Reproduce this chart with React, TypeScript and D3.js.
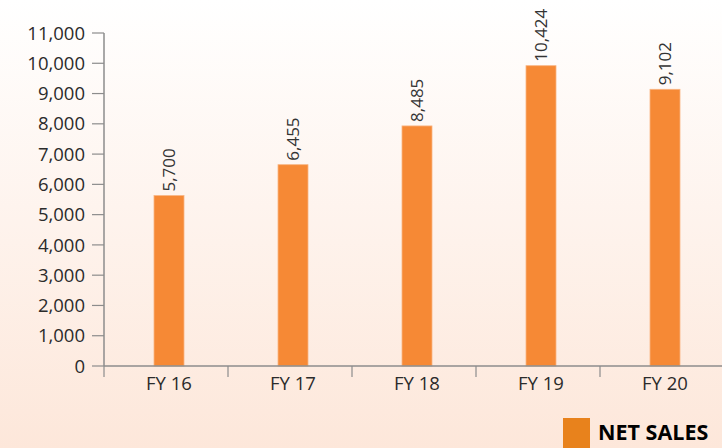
import React, { useEffect, useRef } from 'react';
import * as d3 from 'd3';

const categories = ['FY 16', 'FY 17', 'FY 18', 'FY 19', 'FY 20'];
// bar heights as drawn in the picture
const barValues = [5630, 6650, 7930, 9920, 9140];
// value labels as printed above the bars
const valueLabels = ['5,700', '6,455', '8,485', '10,424', '9,102'];
const yTicks = [0, 1000, 2000, 3000, 4000, 5000, 6000, 7000, 8000, 9000, 10000, 11000];
const legendLabel = 'NET SALES';

const W = 722;
const H = 448;

const App: React.FC = () => {
  const ref = useRef<SVGSVGElement>(null);

  useEffect(() => {
    if (!ref.current) return;
    const svg = d3.select(ref.current);
    svg.selectAll('*').remove();

    const defs = svg.append('defs');
    const grad = defs
      .append('linearGradient')
      .attr('id', 'bg')
      .attr('x1', 0)
      .attr('y1', 0)
      .attr('x2', 0)
      .attr('y2', 1);
    grad.append('stop').attr('offset', '0%').attr('stop-color', '#ffffff');
    grad.append('stop').attr('offset', '100%').attr('stop-color', '#fde7da');

    svg.append('rect').attr('width', W).attr('height', H).attr('fill', 'url(#bg)');

    const x = d3.scaleBand<string>().domain(categories).range([104, 724]);
    const y = d3.scaleLinear().domain([0, 11000]).range([366, 33]);
    const barW = 30;
    const shift = 3;

    // bars
    svg
      .append('g')
      .selectAll('rect')
      .data(categories)
      .enter()
      .append('rect')
      .attr('x', (d) => (x(d) as number) + x.bandwidth() / 2 + shift - barW / 2)
      .attr('y', (_, i) => y(barValues[i]))
      .attr('width', barW)
      .attr('height', (_, i) => y(0) - y(barValues[i]))
      .attr('fill', '#f68935')
      .attr('stroke', '#f9b482')
      .attr('stroke-width', 0.8);

    // value labels
    svg
      .append('g')
      .selectAll('text')
      .data(categories)
      .enter()
      .append('text')
      .attr(
        'transform',
        (d, i) =>
          `translate(${(x(d) as number) + x.bandwidth() / 2 + shift + 6},${y(barValues[i]) - 4}) rotate(-90)`
      )
      .attr('font-family', 'Open Sans, sans-serif')
      .attr('font-size', 17)
      .attr('fill', '#333')
      .text((_, i) => valueLabels[i]);

    // y axis
    const yAxis = svg.append('g').attr('transform', 'translate(104,0)');
    yAxis
      .append('line')
      .attr('x1', 0)
      .attr('x2', 0)
      .attr('y1', y(11000))
      .attr('y2', y(0))
      .attr('stroke', '#8c8c8c')
      .attr('stroke-width', 1.5);
    yAxis
      .selectAll('line.tick')
      .data(yTicks)
      .enter()
      .append('line')
      .attr('class', 'tick')
      .attr('x1', -12)
      .attr('x2', 0)
      .attr('y1', (d) => y(d))
      .attr('y2', (d) => y(d))
      .attr('stroke', '#8c8c8c')
      .attr('stroke-width', 1.2);
    yAxis
      .selectAll('text')
      .data(yTicks)
      .enter()
      .append('text')
      .attr('x', -19)
      .attr('y', (d) => y(d))
      .attr('dy', '0.36em')
      .attr('text-anchor', 'end')
      .attr('font-family', 'Open Sans, sans-serif')
      .attr('font-size', 18.5)
      .attr('fill', '#2b2b2b')
      .text((d) => d3.format(',')(d));

    // x axis
    const xAxis = svg.append('g');
    xAxis
      .append('line')
      .attr('x1', 104)
      .attr('x2', W)
      .attr('y1', y(0))
      .attr('y2', y(0))
      .attr('stroke', '#8c8c8c')
      .attr('stroke-width', 1.5);
    xAxis
      .selectAll('line.tick')
      .data(categories)
      .enter()
      .append('line')
      .attr('class', 'tick')
      .attr('x1', (d) => x(d) as number)
      .attr('x2', (d) => x(d) as number)
      .attr('y1', y(0))
      .attr('y2', y(0) + 11)
      .attr('stroke', '#8c8c8c')
      .attr('stroke-width', 1.2);
    xAxis
      .selectAll('text')
      .data(categories)
      .enter()
      .append('text')
      .attr('x', (d) => (x(d) as number) + x.bandwidth() / 2 + shift)
      .attr('y', 390)
      .attr('text-anchor', 'middle')
      .attr('font-family', 'Open Sans, sans-serif')
      .attr('font-size', 18.5)
      .attr('fill', '#2b2b2b')
      .text((d) => d);

    // legend
    const legend = svg.append('g').attr('transform', 'translate(563,418)');
    legend.append('rect').attr('width', 27).attr('height', 32).attr('fill', '#e8821c');
    legend
      .append('text')
      .attr('x', 35)
      .attr('y', 22)
      .attr('font-family', 'Open Sans, sans-serif')
      .attr('font-weight', 'bold')
      .attr('font-size', 21.5)
      .attr('fill', '#000')
      .text(legendLabel);
  }, []);

  return (
    <svg
      ref={ref}
      width={W}
      height={H}
      style={{ position: 'absolute', left: 0, top: 0, display: 'block' }}
    ></svg>
  );
};

export default App;
